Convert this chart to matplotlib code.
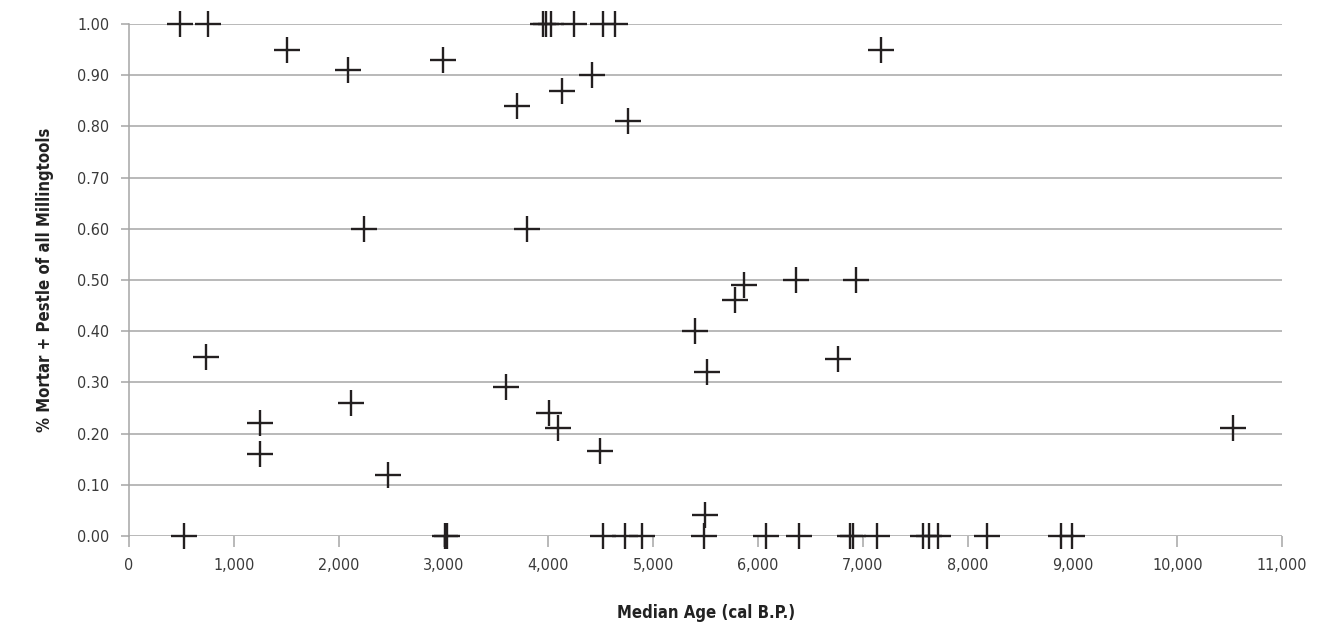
import matplotlib.pyplot as plt
from matplotlib.ticker import FuncFormatter, MultipleLocator

plt.rcParams['font.family'] = ['DejaVu Sans']
plt.rcParams['font.stretch'] = 'condensed'

# median age (cal B.P.) and share of mortar + pestle among milling tools
age = [490, 751, 3947, 3981, 4024, 4241, 4526, 4640,
       1511, 2093, 2993, 3700, 4128, 4412, 4763, 7172,
       2240, 3800, 734, 1253, 1253, 2120, 2474, 3599, 4004, 4091, 4496,
       5862, 5776, 6361, 6934, 5401, 5512, 6762,
       5490, 10532,
       520, 3010, 3035, 4523, 4727, 4893, 5487, 6072, 6390, 6876, 6902,
       7137, 7573, 7627, 7716, 8187, 8890, 9000]
share = [1.00, 1.00, 1.00, 1.00, 1.00, 1.00, 1.00, 1.00,
         0.95, 0.91, 0.93, 0.84, 0.87, 0.90, 0.81, 0.95,
         0.60, 0.60, 0.35, 0.22, 0.16, 0.26, 0.12, 0.29, 0.24, 0.21, 0.165,
         0.49, 0.46, 0.50, 0.50, 0.40, 0.32, 0.345,
         0.04, 0.21,
         0.00, 0.00, 0.00, 0.00, 0.00, 0.00, 0.00, 0.00, 0.00, 0.00, 0.00,
         0.00, 0.00, 0.00, 0.00, 0.00, 0.00, 0.00]

grey = '#a6a6a6'
txt = '#3a3a3a'

fig = plt.figure(figsize=(13.17, 6.32), dpi=100)
ax = fig.add_axes([0.098, 0.152, 0.8755, 0.810])

ax.plot(age, share, linestyle='none', marker='+', markersize=19,
        markeredgewidth=1.7, color='#231f20', clip_on=False, zorder=3)

ax.set_xlim(0, 11000)
ax.set_ylim(0, 1.0)
ax.xaxis.set_major_locator(MultipleLocator(1000))
ax.yaxis.set_major_locator(MultipleLocator(0.1))
ax.xaxis.set_major_formatter(FuncFormatter(lambda v, p: f'{v:,.0f}'))
ax.yaxis.set_major_formatter(FuncFormatter(lambda v, p: f'{v:.2f}'))

ax.grid(axis='y', color=grey, linewidth=1.1)
ax.set_axisbelow(True)
for s in ['top', 'right', 'bottom']:
    ax.spines[s].set_visible(False)
ax.spines['left'].set_color(grey)
ax.spines['left'].set_linewidth(1.1)

ax.tick_params(axis='y', direction='out', length=6, width=1.1, color=grey,
               labelsize=11.5, labelcolor=txt, pad=8)
ax.tick_params(axis='x', direction='out', length=8, width=1.1, color=grey,
               labelsize=11.5, labelcolor=txt, pad=8)

ax.set_xlabel('Median Age (cal B.P.)', fontsize=12, fontweight='bold',
              color='#222222', labelpad=22)
ax.set_ylabel('% Mortar + Pestle of all Millingtools', fontsize=12,
              fontweight='bold', color='#222222', labelpad=17)

fig.savefig('out.png', dpi=100)
